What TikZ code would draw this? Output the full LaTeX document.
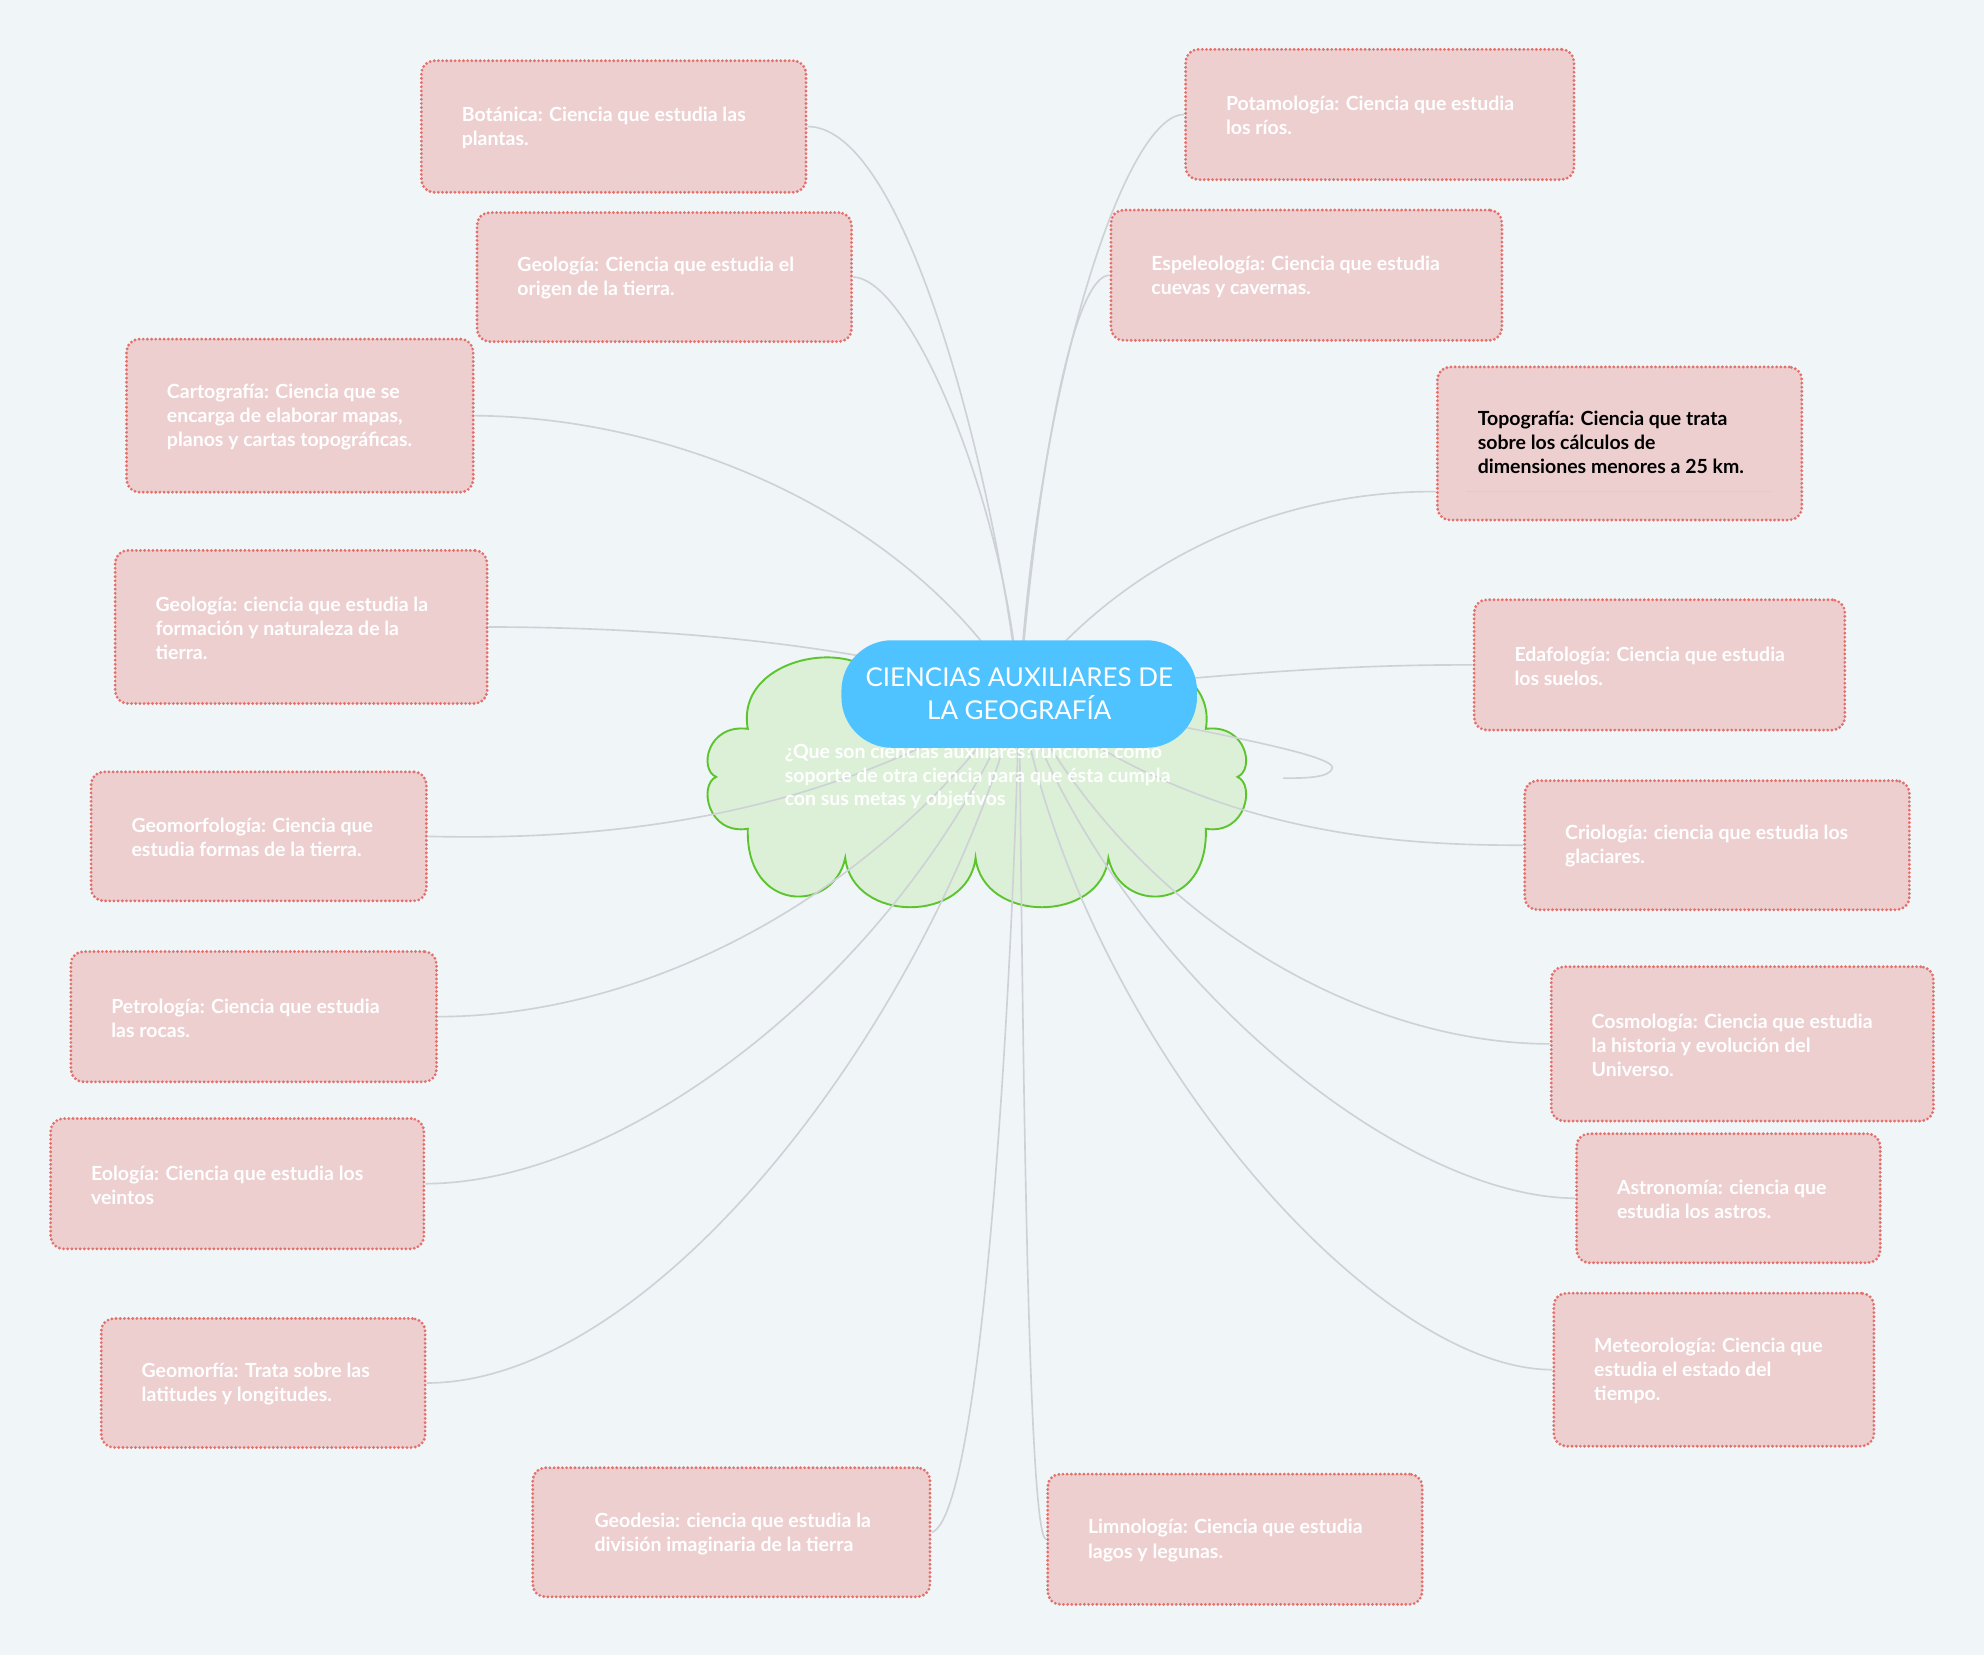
\documentclass[tikz,border=0pt]{standalone}
\usepackage{fontspec}
\setmainfont{Lato}
\definecolor{bgcol}{RGB}{240,245,248}
\definecolor{boxfill}{RGB}{237,207,208}
\definecolor{boxline}{RGB}{228,112,108}
\definecolor{conncol}{RGB}{206,210,215}
\definecolor{cloudfill}{RGB}{220,240,216}
\definecolor{cloudline}{RGB}{92,196,44}
\definecolor{rootcol}{RGB}{79,195,255}
\tikzset{
  box/.style={draw=boxline, fill=boxfill, rounded corners=10pt, line width=2.5pt,
    dash pattern=on 0pt off 3.3pt, line cap=round, inner sep=0pt, anchor=center},
  boxtext/.style={anchor=west, align=left, inner sep=0pt, text=white,
    font=\fontsize{15.4}{19}\selectfont\bfseries},
  conn/.style={draw=conncol, line width=1.3pt},
  root/.style={fill=rootcol, rounded corners=40pt, minimum width=281pt, minimum height=85pt,
    align=center, text=white, inner sep=0pt, font=\fontsize{20.5}{26}\selectfont}
}
\begin{document}
\begin{tikzpicture}[x=1pt,y=-1pt]
\fill[bgcol] (0,0) rectangle (1568,1308);
\useasboundingbox (0,0) rectangle (1568,1308);

% cloud
\filldraw[fill=cloudfill, draw=cloudline, line width=1.5pt, line join=miter]
  (591,576) .. controls (580,515) and (690,500) .. (700,548)
  -- (843,548)
  .. controls (853,500) and (963,515) .. (953,576)
  .. controls (985,572) and (992,608) .. (978,614)
  .. controls (992,620) and (985,660) .. (953,655)
  .. controls (955,722) and (885,722) .. (876,678)
  .. controls (870,730) and (777,730) .. (771,678)
  .. controls (765,730) and (674,730) .. (668,678)
  .. controls (659,722) and (589,722) .. (591,655)
  .. controls (559,660) and (552,620) .. (566,614)
  .. controls (552,608) and (559,572) .. (591,576) -- cycle;

% boxes
\node[box, minimum width=304pt, minimum height=104pt] (b1) at (485,100) {};
\node[boxtext] (t1) at ([xshift=33pt,yshift=-1pt]b1.west) {Botánica: Ciencia que estudia las\\plantas.};
\node[box, minimum width=296pt, minimum height=102pt] (b2) at (525,219) {};
\node[boxtext] (t2) at ([xshift=33pt,yshift=-1pt]b2.west) {Geología: Ciencia que estudia el\\origen de la tierra.};
\node[box, minimum width=274pt, minimum height=121pt] (b3) at (237,328.5) {};
\node[boxtext] (t3) at ([xshift=33pt,yshift=-1pt]b3.west) {Cartografía: Ciencia que se\\encarga de elaborar mapas,\\planos y cartas topográficas.};
\node[box, minimum width=294pt, minimum height=121pt] (b4) at (238,495.5) {};
\node[boxtext] (t4) at ([xshift=33pt,yshift=-1pt]b4.west) {Geología: ciencia que estudia la\\formación y naturaleza de la\\tierra.};
\node[box, minimum width=265pt, minimum height=102pt] (b5) at (204.5,661) {};
\node[boxtext] (t5) at ([xshift=33pt,yshift=-1pt]b5.west) {Geomorfología: Ciencia que\\estudia formas de la tierra.};
\node[box, minimum width=289pt, minimum height=103pt] (b6) at (200.5,803.5) {};
\node[boxtext] (t6) at ([xshift=33pt,yshift=-1pt]b6.west) {Petrología: Ciencia que estudia\\las rocas.};
\node[box, minimum width=295pt, minimum height=103pt] (b7) at (187.5,935.5) {};
\node[boxtext] (t7) at ([xshift=33pt,yshift=-1pt]b7.west) {Eología: Ciencia que estudia los\\veintos};
\node[box, minimum width=256pt, minimum height=102pt] (b8) at (208,1093) {};
\node[boxtext] (t8) at ([xshift=33pt,yshift=-1pt]b8.west) {Geomorfía: Trata sobre las\\latitudes y longitudes.};
\node[box, minimum width=314pt, minimum height=102pt] (b9) at (578,1211) {};
\node[boxtext] (t9) at ([xshift=50pt,yshift=-1pt]b9.west) {Geodesia: ciencia que estudia la\\división imaginaria de la tierra};
\node[box, minimum width=296pt, minimum height=103pt] (b10) at (976,1216.5) {};
\node[boxtext] (t10) at ([xshift=33pt,yshift=-1pt]b10.west) {Limnología: Ciencia que estudia\\lagos y legunas.};
\node[box, minimum width=253pt, minimum height=121pt] (b11) at (1354.5,1082.5) {};
\node[boxtext] (t11) at ([xshift=33pt,yshift=-1pt]b11.west) {Meteorología: Ciencia que\\estudia el estado del\\tiempo.};
\node[box, minimum width=240pt, minimum height=102pt] (b12) at (1366,947) {};
\node[boxtext] (t12) at ([xshift=33pt,yshift=-1pt]b12.west) {Astronomía: ciencia que\\estudia los astros.};
\node[box, minimum width=302pt, minimum height=122pt] (b13) at (1377,825) {};
\node[boxtext] (t13) at ([xshift=33pt,yshift=-1pt]b13.west) {Cosmología: Ciencia que estudia\\la historia y evolución del\\Universo.};
\node[box, minimum width=304pt, minimum height=102pt] (b14) at (1357,668) {};
\node[boxtext] (t14) at ([xshift=33pt,yshift=-1pt]b14.west) {Criología: ciencia que estudia los\\glaciares.};
\node[box, minimum width=293pt, minimum height=103pt] (b15) at (1311.5,525.5) {};
\node[boxtext] (t15) at ([xshift=33pt,yshift=-1pt]b15.west) {Edafología: Ciencia que estudia\\los suelos.};
\node[box, minimum width=288pt, minimum height=121pt] (b16) at (1280,350.5) {};
\node[boxtext, text=black] (t16) at ([xshift=33pt,yshift=1pt]b16.west) {Topografía: Ciencia que trata\\sobre los cálculos de\\dimensiones menores a 25 km.};
\node[box, minimum width=309pt, minimum height=103pt] (b17) at (1032.5,217.5) {};
\node[boxtext] (t17) at ([xshift=33pt,yshift=-1pt]b17.west) {Espeleología: Ciencia que estudia\\cuevas y cavernas.};
\node[box, minimum width=307pt, minimum height=103pt] (b18) at (1090.5,90.5) {};
\node[boxtext] (t18) at ([xshift=33pt,yshift=-1pt]b18.west) {Potamología: Ciencia que estudia\\los ríos.};

% connectors
\coordinate (hub) at (805.5,548.5);
\coordinate (topoin) at ([yshift=-38pt]b16.west);
\coordinate (loopend) at (1014,615);
\draw[conn] (b1.east) .. controls (720,100) and (790,400) .. (hub);
\draw[conn] (b2.east) .. controls (720,220) and (795,400) .. (hub);
\draw[conn] (b3.east) .. controls (540,330) and (720,410) .. (hub);
\draw[conn] (b4.east) .. controls (560,496) and (700,515) .. (hub);
\draw[conn] (b5.east) .. controls (500,665) and (660,640) .. (hub);
\draw[conn] (b6.east) .. controls (520,803) and (700,700) .. (hub);
\draw[conn] (b7.east) .. controls (500,935) and (720,760) .. (hub);
\draw[conn] (b8.east) .. controls (520,1093) and (740,800) .. (hub);
\draw[conn] (b9.east) .. controls (775,1200) and (800,800) .. (hub);
\draw[conn] (b10.west) .. controls (812,1216) and (808,800) .. (hub);
\draw[conn] (b11.west) .. controls (1080,1082) and (850,810) .. (hub);
\draw[conn] (b12.west) .. controls (1100,946) and (880,760) .. (hub);
\draw[conn] (b13.west) .. controls (1080,825) and (900,730) .. (hub);
\draw[conn] (b14.west) .. controls (1100,668) and (950,660) .. (hub);
\draw[conn] (b15.west) .. controls (1050,525) and (950,535) .. (hub);
\draw[conn] (topoin) .. controls (1000,388) and (880,450) .. (hub);
\draw[conn] (b17.west) .. controls (850,218) and (822,350) .. (hub);
\draw[conn] (b18.west) .. controls (890,90) and (820,300) .. (hub);
\draw[conn] (hub) .. controls (950,578) and (1055,596) .. (1053,607)
  .. controls (1051,615) and (1030,615) .. (loopend);
\draw[conn] ([xshift=24pt]topoin) -- ([xshift=265pt]topoin);

% cloud text
\node[anchor=west, align=left, inner sep=0pt, text=white,
  font=\fontsize{15.4}{18.5}\selectfont\bfseries] (note) at (620,614)
  {¿Que son ciencias auxiliares?funciona como\\soporte de otra ciencia para que ésta cumpla\\con sus metas y objetivos};

% root
\node[root] (rootnode) at (hub) {CIENCIAS AUXILIARES DE\\LA GEOGRAFÍA};
\end{tikzpicture}
\end{document}
